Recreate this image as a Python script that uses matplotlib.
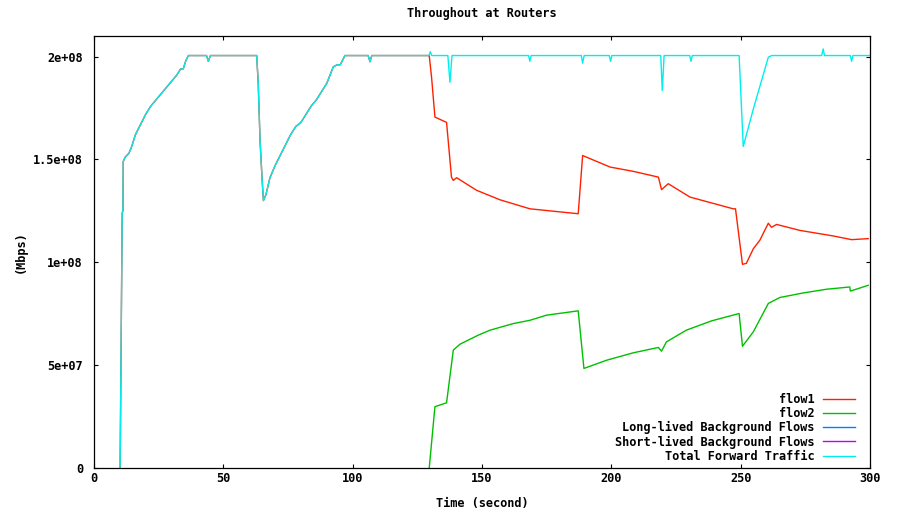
import matplotlib
matplotlib.use('Agg')
import matplotlib.pyplot as plt
import numpy as np

# time (s) and throughput (1e6 bps)
total_t = [10.1, 10.9, 11.2, 11.3, 12.0, 13.5, 14.5, 16, 18, 20, 22, 24, 26, 28, 30, 32,
           33.5, 34.5, 35.5, 36.5, 43.5, 44.2, 45, 62.9, 63.5, 64.2, 65.0, 65.5, 66.5,
           68, 70, 72, 74, 76, 78, 80, 82, 84, 86, 88, 90, 92.5, 94, 95.2, 97, 106,
           106.7, 107.4, 129.5, 130.0, 130.6, 136.8, 137.6, 138.4, 168, 168.5, 169,
           188.4, 188.9, 189.5, 199.2, 199.7, 200.2, 219.1, 219.7, 220.4, 230.3, 230.8,
           231.3, 249.4, 251.0, 255, 260.7, 262, 281.3, 281.9, 282.4, 292.4, 292.9,
           293.4, 300]
total_v = [0, 124, 125, 149, 151, 153, 156, 162, 167, 172, 176, 179, 182, 185, 188, 191,
           194, 194, 198, 200.5, 200.5, 197.7, 200.5, 200.5, 186.7, 159, 140, 130, 133,
           141, 147, 152, 157, 162, 166, 168, 172, 176, 179, 183, 187, 195, 196, 196,
           200.5, 200.5, 197.5, 200.5, 200.5, 202.4, 200.5, 200.5, 187.5, 200.5, 200.5,
           197.7, 200.5, 200.5, 196.8, 200.5, 200.5, 197.7, 200.5, 200.5, 183.5, 200.5,
           200.5, 197.7, 200.5, 200.5, 156.3, 175, 199.7, 200.5, 200.5, 203.7, 200.5,
           200.5, 197.7, 200.5, 200.5]

# flow1 alone carries the traffic until flow2 starts
flow1_late_t = [129.6, 130.5, 131.8, 136.3, 138.2, 138.9, 140.2, 147.9, 156.9, 168.5,
                187.2, 188.9, 199.5, 208.5, 218.2, 219.4, 222, 230.4, 247.1, 248, 250.7,
                252.2, 254.9, 257.4, 260.7, 261.9, 263.9, 272.9, 285.8, 292.9, 299.3]
flow1_late_v = [200.5, 190, 170.6, 168, 141.4, 139.8, 141.1, 135, 130.4, 126, 123.6, 151.9,
                146.3, 144.2, 141.4, 135.3, 138.2, 131.7, 126, 126, 99, 99.5, 106.6,
                110.7, 119, 117, 118.4, 115.5, 112.8, 111, 111.5]

flow2_t = [129.6, 131.8, 136.3, 138.9, 141.5, 148.6, 153.1, 162.1, 168.5, 175, 187.2,
           189.4, 198.2, 208.5, 218.2, 219.4, 221.3, 229, 238.7, 249.4, 250.7, 254.9,
           260.7, 265.2, 274.2, 283.2, 292.2, 292.4, 299.3]
flow2_v = [0, 29.8, 31.7, 57.3, 60.2, 64.6, 67, 70.2, 71.8, 74.3, 76.4, 48.4, 52.4, 56,
           58.6, 56.8, 61.3, 67, 71.5, 75.1, 59.2, 66.2, 80, 82.9, 85.1, 86.9, 88, 86,
           88.8]

long_t, long_v = [], []
short_t, short_v = [], []

labels = ['flow1', 'flow2', 'Long-lived Background Flows',
          'Short-lived Background Flows', 'Total Forward Traffic']
colors = ['#ff2000', '#00c000', '#0080ff', '#c000ff', '#00eeee']

early = [i for i, t in enumerate(total_t) if t < 129.6]
flow1_t = [total_t[i] for i in early] + flow1_late_t
flow1_v = [total_v[i] for i in early] + flow1_late_v

font = 'DejaVu Sans Mono'
plt.rcParams['font.family'] = font
plt.rcParams['font.weight'] = 'bold'
plt.rcParams['font.size'] = 8.6

fig = plt.figure(figsize=(9.13, 5.16), dpi=100)
W, H = 913, 516
ax = fig.add_axes([94 / W, 1 - 468 / H, (870 - 94) / W, (468 - 36) / H])

series = [(flow1_t, flow1_v), (flow2_t, flow2_v), (long_t, long_v),
          (short_t, short_v), (total_t, total_v)]
for (t, v), lab, c in zip(series, labels, colors):
    ax.plot(t, np.array(v) * 1e6, color=c, lw=1.0, label=lab)

ax.set_xlim(0, 300)
ax.set_ylim(0, 2.1e8)
ax.set_xticks([0, 50, 100, 150, 200, 250, 300])
ax.set_yticks([0, 5e7, 1e8, 1.5e8, 2e8])
ax.set_yticklabels(['0', '5e+07', '1e+08', '1.5e+08', '2e+08'])
ax.tick_params(direction='in', length=3.2, width=0.8, top=True, right=True)
ax.tick_params(axis='y', pad=8)
ax.tick_params(axis='x', pad=3)
for s in ax.spines.values():
    s.set_linewidth(0.9)

leg = ax.legend(loc='lower right', bbox_to_anchor=(0.981, 0.012), markerfirst=False,
                frameon=False, handlelength=2.7, handletextpad=0.7, labelspacing=0.1,
                borderpad=0, borderaxespad=0)

fig.text(482 / W, 1 - 14 / H, 'Throughout at Routers', ha='center', va='center')
fig.text(482 / W, 1 - 504 / H, 'Time (second)', ha='center', va='center')
fig.text(20 / W, 1 - 252 / H, '(Mbps)', ha='center', va='center', rotation=90)

fig.savefig('out.png', dpi=100)
